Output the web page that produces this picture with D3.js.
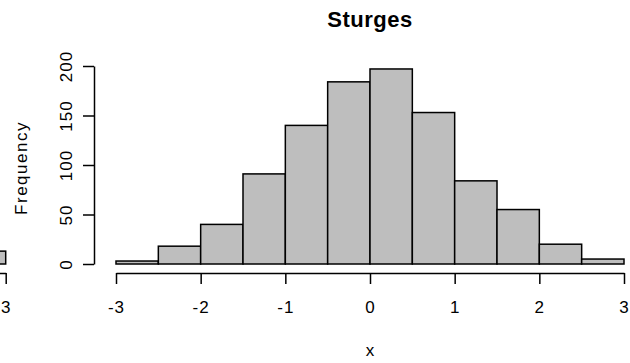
<!DOCTYPE html>
<html>
<head>
<meta charset="utf-8">
<title>Sturges</title>
<script src="https://d3js.org/d3.v7.min.js"></script>
<style>
body { margin: 0; background: #fff; }
svg { display: block; font-family: "Liberation Sans", Arial, sans-serif; }
.bar { fill: #bebebe; stroke: #000; stroke-width: 1.5px; }
.axis path, .axis line { stroke: #000; stroke-width: 1.5px; }
.axis text { font-size: 17px; letter-spacing: 1px; fill: #000; font-family: "Liberation Sans", Arial, sans-serif; }
</style>
</head>
<body>
<script>
// histogram bins (Sturges breaks) and counts
const breaks = [-3, -2.5, -2, -1.5, -1, -0.5, 0, 0.5, 1, 1.5, 2, 2.5, 3]
const counts = [3, 18, 40, 91, 140, 184, 197, 153, 84, 55, 20, 5]
const xTicks = [-3, -2, -1, 0, 1, 2, 3]
const yTicks = [0, 50, 100, 150, 200]

// the edge of the neighbouring panel that shows at the left
const leftBreaks = [2.5, 3]
const leftCounts = [13]
const leftTicks = [3]

const W = 630, H = 363

var bins = counts.map(function(c, i) { return {x0: breaks[i], x1: breaks[i + 1], n: c} })
var leftBins = leftCounts.map(function(c, i) { return {x0: leftBreaks[i], x1: leftBreaks[i + 1], n: c} })

var svg = d3.select("body").append("svg")
    .attr("width", W)
    .attr("height", H)

var x = d3.scaleLinear().domain([-3, 3]).range([116, 624])
var y = d3.scaleLinear().domain([0, 200]).range([264, 66])
var xl = d3.scaleLinear().domain([-3, 3]).range([5.7 - 6 * 84.7, 5.7])

// bars
svg.selectAll("rect.main").data(bins).enter().append("rect")
    .attr("class", "bar main")
    .attr("x", function(d) { return x(d.x0) })
    .attr("width", function(d) { return x(d.x1) - x(d.x0) })
    .attr("y", function(d) { return y(d.n) })
    .attr("height", function(d) { return y(0) - y(d.n) })

svg.selectAll("rect.left").data(leftBins).enter().append("rect")
    .attr("class", "bar left")
    .attr("x", function(d) { return xl(d.x0) })
    .attr("width", function(d) { return xl(d.x1) - xl(d.x0) })
    .attr("y", function(d) { return y(d.n) })
    .attr("height", function(d) { return y(0) - y(d.n) })

// x axes
function bottomAxis(scale, ticks) {
  return d3.axisBottom(scale).tickValues(ticks).tickSize(11).tickSizeOuter(0)
    .tickFormat(function(d) { return d3.format("d")(d).replace("\u2212", "-") })
}
svg.append("g")
    .attr("class", "axis")
    .attr("transform", "translate(0,273)")
    .call(bottomAxis(x, xTicks))
    .call(function(g) { g.selectAll("text").attr("y", 40).attr("dy", null) })

svg.append("g")
    .attr("class", "axis")
    .attr("transform", "translate(0,273)")
    .call(bottomAxis(xl, leftTicks))
    .call(function(g) { g.selectAll("text").attr("y", 40).attr("dy", null) })

// y axis, labels parallel to the axis
svg.append("g")
    .attr("class", "axis")
    .attr("transform", "translate(94,0)")
    .call(d3.axisLeft(y).tickValues(yTicks).tickSize(11).tickSizeOuter(0))
    .call(function(g) {
      g.selectAll("text")
        .attr("x", null).attr("dy", null)
        .attr("text-anchor", "middle")
        .attr("transform", "translate(-22,0) rotate(-90)")
    })

// titles
svg.append("text")
    .attr("x", 370).attr("y", 27)
    .attr("text-anchor", "middle")
    .style("font-size", "22px").style("font-weight", "bold").style("letter-spacing", "0.5px")
    .text("Sturges")

svg.append("text")
    .attr("x", 370).attr("y", 356)
    .attr("text-anchor", "middle")
    .style("font-size", "17px")
    .text("x")

svg.append("text")
    .attr("transform", "translate(27,168) rotate(-90)")
    .attr("text-anchor", "middle")
    .style("font-size", "17px").style("letter-spacing", "1.5px")
    .text("Frequency")
</script>
</body>
</html>
